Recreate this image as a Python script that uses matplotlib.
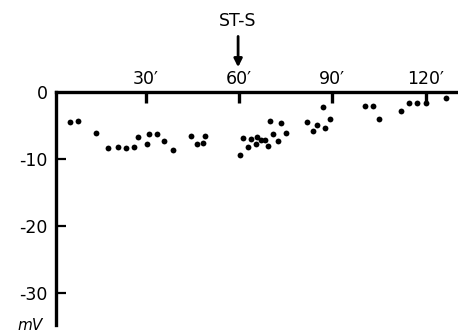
import matplotlib
matplotlib.use("Agg")
import matplotlib.pyplot as plt

# Time (minutes) and potential (mV)
minutes = [5.7, 8.3, 14.0, 17.8, 21.2, 23.7, 26.3, 27.4, 30.5, 31.1, 33.5, 36.0,
           38.7, 44.5, 46.6, 48.5, 49.1,
           60.2, 61.4, 62.9, 64.0, 65.3, 65.8, 67.2, 68.2, 69.4, 69.8, 70.8, 72.6,
           73.6, 75.2, 82.0, 83.8, 85.1, 87.0, 87.6, 89.3, 100.4, 103.0, 105.0,
           112.2, 114.7, 117.2, 120.1, 126.6]
potential = [-4.5, -4.4, -6.1, -8.3, -8.2, -8.3, -8.2, -6.7, -7.8, -6.3, -6.2, -7.3,
             -8.6, -6.5, -7.7, -7.6, -6.5,
             -9.4, -6.9, -8.2, -7.0, -7.8, -6.7, -7.1, -7.2, -8.1, -4.3, -6.2, -7.3,
             -4.6, -6.1, -4.5, -5.8, -5.0, -2.3, -5.4, -4.1, -2.1, -2.1, -4.0,
             -2.9, -1.6, -1.6, -1.7, -0.9]

x_ticks = [30, 60, 90, 120]
x_tick_labels = ["30\u2032", "60\u2032", "90\u2032", "120\u2032"]
y_ticks = [0, -10, -20, -30]
y_tick_labels = ["0", "-10", "-20", "-30"]
event_time = 59.7
event_label = "ST-S"
unit_label = "mV"

fig = plt.figure(figsize=(4.58, 3.36), dpi=100)
ax = fig.add_axes([0.1223, 0.0327, 0.8777, 0.6935])

ax.plot(minutes, potential, 'o', color='black', markersize=4.2, markeredgewidth=0,
        clip_on=False)

ax.set_xlim(1.16, 130.4)
ax.set_ylim(-34.8, 0)

for s in ['right', 'bottom']:
    ax.spines[s].set_visible(False)
for s in ['left', 'top']:
    ax.spines[s].set_linewidth(2.4)
    ax.spines[s].set_color('black')

ax.xaxis.tick_top()
ax.set_xticks(x_ticks)
ax.set_xticklabels(x_tick_labels, fontsize=12.5)
ax.tick_params(axis='x', direction='in', length=8, width=2.4, pad=3)

ax.set_yticks(y_ticks)
ax.set_yticklabels(y_tick_labels, fontsize=12.5)
ax.tick_params(axis='y', direction='in', length=7, width=1.6, pad=6)
ax.yaxis.get_major_ticks()[0].tick1line.set_visible(False)

ax.text(event_time, 10.6, event_label, ha='center', va='center', fontsize=12.5,
        clip_on=False)
ax.annotate("", xy=(event_time, 3.7), xycoords='data',
            xytext=(event_time, 8.3), textcoords='data', annotation_clip=False,
            arrowprops=dict(arrowstyle='-|>', color='black', lw=2,
                            mutation_scale=12, shrinkA=0, shrinkB=0))

fig.text(30 / 458, 1 - 325 / 336, unit_label, fontsize=11, style='italic',
         ha='center', va='center')

fig.savefig("out.png", dpi=100)
